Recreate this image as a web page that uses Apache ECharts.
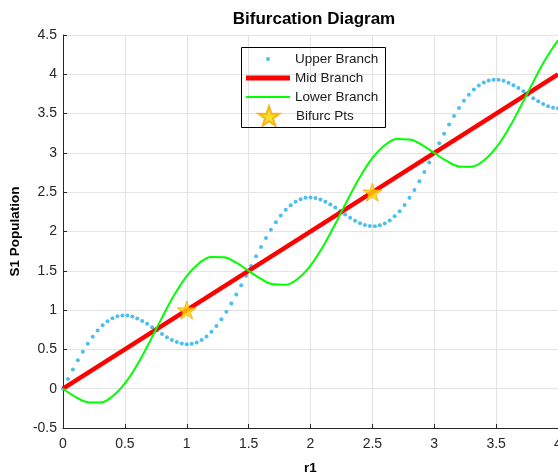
<!DOCTYPE html>
<html>
<head>
<meta charset="utf-8">
<script src="https://cdn.jsdelivr.net/npm/echarts@6/dist/echarts.min.js"></script>
<style>
  html, body { margin: 0; padding: 0; background: #fff; }
  #chart { width: 558px; height: 473px; }
</style>
</head>
<body>
<div id="chart"></div>
<script>
// Upper branch samples, r1 = 0, 0.04, ..., 4
const upperX = [
  0.00, 0.04, 0.08, 0.12, 0.16, 0.20, 0.24, 0.28, 0.32, 0.36,
  0.40, 0.44, 0.48, 0.52, 0.56, 0.60, 0.64, 0.68, 0.72, 0.76,
  0.80, 0.84, 0.88, 0.92, 0.96, 1.00, 1.04, 1.08, 1.12, 1.16,
  1.20, 1.24, 1.28, 1.32, 1.36, 1.40, 1.44, 1.48, 1.52, 1.56,
  1.60, 1.64, 1.68, 1.72, 1.76, 1.80, 1.84, 1.88, 1.92, 1.96,
  2.00, 2.04, 2.08, 2.12, 2.16, 2.20, 2.24, 2.28, 2.32, 2.36,
  2.40, 2.44, 2.48, 2.52, 2.56, 2.60, 2.64, 2.68, 2.72, 2.76,
  2.80, 2.84, 2.88, 2.92, 2.96, 3.00, 3.04, 3.08, 3.12, 3.16,
  3.20, 3.24, 3.28, 3.32, 3.36, 3.40, 3.44, 3.48, 3.52, 3.56,
  3.60, 3.64, 3.68, 3.72, 3.76, 3.80, 3.84, 3.88, 3.92, 3.96,
  4.00
];
const upperY = [
  0.000, 0.123, 0.244, 0.361, 0.471, 0.572, 0.662, 0.741, 0.807, 0.859,
  0.897, 0.922, 0.932, 0.931, 0.917, 0.894, 0.862, 0.825, 0.783, 0.739,
  0.696, 0.656, 0.621, 0.593, 0.575, 0.567, 0.571, 0.589, 0.620, 0.665,
  0.724, 0.797, 0.882, 0.978, 1.083, 1.197, 1.316, 1.438, 1.562, 1.684,
  1.803, 1.917, 2.022, 2.118, 2.203, 2.276, 2.335, 2.380, 2.411, 2.429,
  2.433, 2.425, 2.407, 2.379, 2.344, 2.304, 2.261, 2.217, 2.175, 2.138,
  2.106, 2.083, 2.069, 2.068, 2.078, 2.103, 2.141, 2.193, 2.259, 2.338,
  2.428, 2.529, 2.639, 2.756, 2.877, 3.000, 3.123, 3.244, 3.361, 3.471,
  3.572, 3.662, 3.741, 3.807, 3.859, 3.897, 3.922, 3.932, 3.931, 3.917,
  3.894, 3.862, 3.825, 3.783, 3.739, 3.696, 3.656, 3.621, 3.593, 3.575,
  3.567
];

// Mid branch: straight line
const midX = [0, 4];
const midY = [0, 4];

// Lower branch, r1 = 0, 0.1, ..., 4
const lowerX = [
  0.0, 0.1, 0.2, 0.3, 0.4, 0.5, 0.6, 0.7, 0.8, 0.9,
  1.0, 1.1, 1.2, 1.3, 1.4, 1.5, 1.6, 1.7, 1.8, 1.9,
  2.0, 2.1, 2.2, 2.3, 2.4, 2.5, 2.6, 2.7, 2.8, 2.9,
  3.0, 3.1, 3.2, 3.3, 3.4, 3.5, 3.6, 3.7, 3.8, 3.9,
  4.0
];
const lowerY = [
  0.000, -0.103, -0.172, -0.176, -0.097, 0.067, 0.306, 0.596, 0.904, 1.194,
  1.433, 1.597, 1.676, 1.672, 1.603, 1.500, 1.397, 1.328, 1.324, 1.403,
  1.567, 1.806, 2.096, 2.404, 2.694, 2.933, 3.097, 3.176, 3.172, 3.103,
  3.000, 2.897, 2.828, 2.824, 2.903, 3.067, 3.306, 3.596, 3.904, 4.194,
  4.433
];

// Bifurcation points
const bifX = [1.0, 2.5];
const bifY = [1.0, 2.5];

// Axis ticks
const xTicks = { min: 0, max: 4, step: 0.5 };
const yTicks = { min: -0.5, max: 4.5, step: 0.5 };

const zip = (xs, ys) => xs.map((x, i) => [x, ys[i]]);

const STAR = 'path://M50 0L61.23 34.55L97.55 34.55L68.17 55.9L79.39 90.45L50 69.1L20.61 90.45L31.83 55.9L2.45 34.55L38.77 34.55Z';
const FONT = 'Liberation Sans, Arial, Helvetica, sans-serif';
const AXIS_COLOR = '#262626';
const GRID_COLOR = '#e3e3e3';

const chart = echarts.init(document.getElementById('chart'), null, { renderer: 'canvas' });

const legendText = { fontFamily: FONT, fontSize: 13.5, color: '#1a1a1a' };
// One legend block per entry so each key can have its own icon size.
// A block is placed by the bounds of its drawn content, so narrow icons
// (centred inside the 44px key slot) need their block shifted right.
const KEY_LEFT = 246, KEY_W = 44;
const legendEntry = (name, icon, w, h, top) => ({
  data: [{ name: name, icon: icon }],
  left: KEY_LEFT + (KEY_W - w) / 2, top: top,
  padding: 0,
  itemWidth: KEY_W, itemHeight: h, itemGap: 0,
  textStyle: legendText,
  selectedMode: false
});

chart.setOption({
  animation: false,
  backgroundColor: '#ffffff',
  title: {
    text: 'Bifurcation Diagram',
    left: 309,
    top: 6,
    textAlign: 'center',
    textStyle: { fontFamily: FONT, fontSize: 17, fontWeight: 'bold', color: '#000' }
  },
  grid: { left: 63, right: 0, top: 35, bottom: 45, containLabel: false, outerBoundsMode: 'none' },
  xAxis: {
    type: 'value',
    min: xTicks.min, max: xTicks.max, interval: xTicks.step,
    name: 'r1',
    nameLocation: 'middle',
    nameGap: 33,
    nameTextStyle: { fontFamily: FONT, fontSize: 13.5, fontWeight: 'bold', color: '#000' },
    axisLine: { show: true, onZero: false, lineStyle: { color: AXIS_COLOR, width: 1 } },
    axisTick: { show: true, inside: true, length: 4, lineStyle: { color: AXIS_COLOR } },
    axisLabel: { fontFamily: FONT, fontSize: 14, color: '#262626', margin: 9, showMaxLabel: true },
    splitLine: { show: true, lineStyle: { color: GRID_COLOR, width: 1 } }
  },
  yAxis: {
    type: 'value',
    min: yTicks.min, max: yTicks.max, interval: yTicks.step,
    name: 'S1 Population',
    nameLocation: 'middle',
    nameGap: 34,
    nameTextStyle: { fontFamily: FONT, fontSize: 13.5, fontWeight: 'bold', color: '#000' },
    axisLine: { show: true, onZero: false, lineStyle: { color: AXIS_COLOR, width: 1 } },
    axisTick: { show: true, inside: true, length: 4, lineStyle: { color: AXIS_COLOR } },
    axisLabel: { fontFamily: FONT, fontSize: 14, color: '#262626', margin: 6 },
    splitLine: { show: true, lineStyle: { color: GRID_COLOR, width: 1 } }
  },
  legend: [
    legendEntry('Upper Branch', 'circle', 4, 4, 52),
    legendEntry('Mid Branch', 'rect', KEY_W, 5, 71),
    legendEntry('Lower Branch', 'rect', KEY_W, 2, 90),
    legendEntry('Bifurc Pts', STAR, 21, 20, 105)
  ],
  graphic: [
    {
      type: 'rect',
      left: 241, top: 47,
      shape: { width: 144, height: 80 },
      style: { fill: 'rgba(255,255,255,0)', stroke: '#000', lineWidth: 1 },
      z: 10
    }
  ],
  series: [
    {
      name: 'Upper Branch',
      type: 'line',
      data: zip(upperX, upperY),
      symbol: 'circle',
      symbolSize: 4,
      showSymbol: true,
      lineStyle: { width: 0, opacity: 0 },
      itemStyle: { color: '#4DBEEE' },
      z: 2
    },
    {
      name: 'Mid Branch',
      type: 'line',
      data: zip(midX, midY),
      symbol: 'none',
      lineStyle: { width: 4.5, color: '#FF0000' },
      itemStyle: { color: '#FF0000' },
      z: 3
    },
    {
      name: 'Lower Branch',
      type: 'line',
      data: zip(lowerX, lowerY),
      symbol: 'none',
      smooth: 0.4,
      lineStyle: { width: 2, color: '#00FF00' },
      itemStyle: { color: '#00FF00' },
      z: 4
    },
    {
      name: 'Bifurc Pts',
      type: 'scatter',
      data: zip(bifX, bifY),
      symbol: STAR,
      symbolSize: 19,
      symbolKeepAspect: true,
      itemStyle: { color: '#FFD500', borderColor: '#F2A900', borderWidth: 1 },
      z: 5
    }
  ]
});
</script>
</body>
</html>
